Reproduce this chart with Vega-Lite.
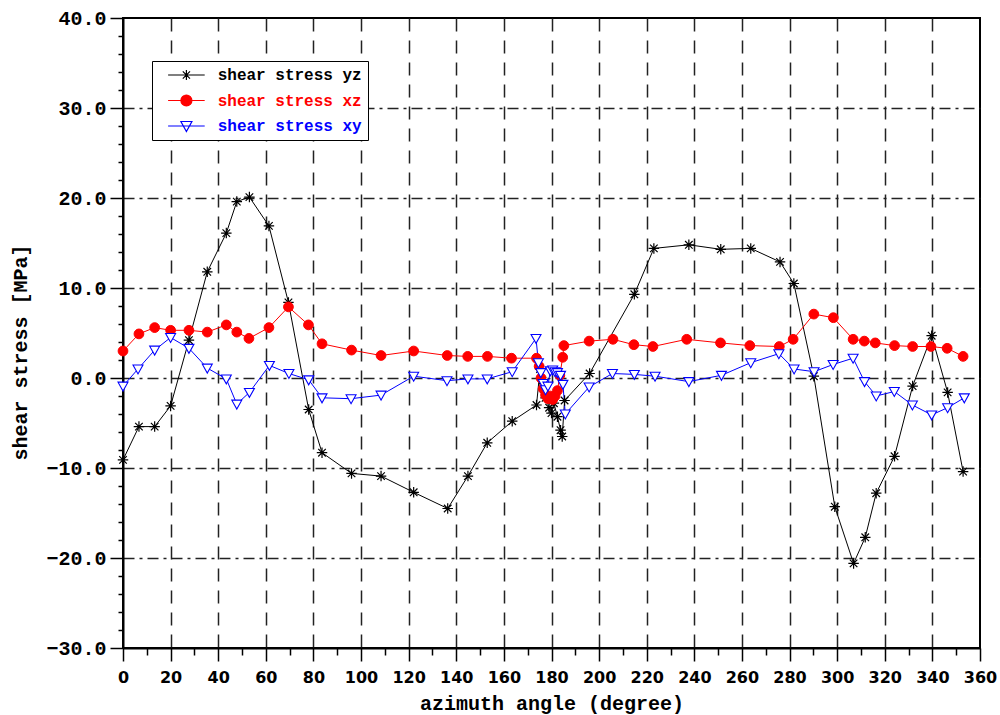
{
  "$schema": "https://vega.github.io/schema/vega-lite/v6.json",
  "width": 857,
  "height": 630,
  "autosize": {"type": "none"},
  "padding": {"left": 123, "top": 18, "right": 20, "bottom": 67},
  "background": "white",
  "config": {
    "view": {"stroke": "black", "strokeWidth": 2},
    "font": "Liberation Mono",
    "legend": {
      "title": null,
      "orient": "none",
      "legendX": 29,
      "legendY": 43,
      "strokeColor": "black",
      "fillColor": "white",
      "padding": 6,
      "symbolSize": 100,
      "symbolOffset": 20.4,
      "symbolStrokeWidth": 1.2,
      "labelFont": "Liberation Mono", "labelFontWeight": "bold", "labelFontSize": 16,
      "labelOffset": 23.3,
      "labelLimit": 0,
      "rowPadding": 9.5
    }
  },
  "datasets": {
    "rows": [
      {"a": 0, "s": "shear stress yz", "v": -9.1}, {"a": 6.7, "s": "shear stress yz", "v": -5.4}, {"a": 13.3, "s": "shear stress yz", "v": -5.4}, {"a": 20, "s": "shear stress yz", "v": -3.1}, {"a": 27.7, "s": "shear stress yz", "v": 4.2}, {"a": 35.4, "s": "shear stress yz", "v": 11.8}, {"a": 43.4, "s": "shear stress yz", "v": 16.1}, {"a": 47.8, "s": "shear stress yz", "v": 19.6}, {"a": 53.1, "s": "shear stress yz", "v": 20.1}, {"a": 61.3, "s": "shear stress yz", "v": 16.9}, {"a": 69.5, "s": "shear stress yz", "v": 8.4}, {"a": 78, "s": "shear stress yz", "v": -3.5}, {"a": 83.6, "s": "shear stress yz", "v": -8.3}, {"a": 96, "s": "shear stress yz", "v": -10.6}, {"a": 108.4, "s": "shear stress yz", "v": -10.9}, {"a": 122.1, "s": "shear stress yz", "v": -12.7}, {"a": 136.4, "s": "shear stress yz", "v": -14.5}, {"a": 144.9, "s": "shear stress yz", "v": -10.9}, {"a": 153, "s": "shear stress yz", "v": -7.2}, {"a": 163.5, "s": "shear stress yz", "v": -4.8}, {"a": 173.7, "s": "shear stress yz", "v": -3.0}, {"a": 175.2, "s": "shear stress yz", "v": 1.0}, {"a": 176.2, "s": "shear stress yz", "v": -0.3}, {"a": 177.5, "s": "shear stress yz", "v": -2.2}, {"a": 179, "s": "shear stress yz", "v": -3.3}, {"a": 180, "s": "shear stress yz", "v": -3.9}, {"a": 181, "s": "shear stress yz", "v": -2.8}, {"a": 182.5, "s": "shear stress yz", "v": -4.3}, {"a": 183.8, "s": "shear stress yz", "v": -5.8}, {"a": 184.5, "s": "shear stress yz", "v": -6.5}, {"a": 185.5, "s": "shear stress yz", "v": -2.5}, {"a": 196, "s": "shear stress yz", "v": 0.5}, {"a": 214.8, "s": "shear stress yz", "v": 9.3}, {"a": 223, "s": "shear stress yz", "v": 14.4}, {"a": 237.7, "s": "shear stress yz", "v": 14.8}, {"a": 251.1, "s": "shear stress yz", "v": 14.3}, {"a": 263.7, "s": "shear stress yz", "v": 14.4}, {"a": 276, "s": "shear stress yz", "v": 12.9}, {"a": 281.8, "s": "shear stress yz", "v": 10.5}, {"a": 290.2, "s": "shear stress yz", "v": 0.2}, {"a": 299, "s": "shear stress yz", "v": -14.3}, {"a": 306.9, "s": "shear stress yz", "v": -20.6}, {"a": 311.8, "s": "shear stress yz", "v": -17.7}, {"a": 316.4, "s": "shear stress yz", "v": -12.8}, {"a": 324.1, "s": "shear stress yz", "v": -8.7}, {"a": 331.7, "s": "shear stress yz", "v": -0.9}, {"a": 339.7, "s": "shear stress yz", "v": 4.7}, {"a": 346.4, "s": "shear stress yz", "v": -1.6}, {"a": 352.9, "s": "shear stress yz", "v": -10.4},

      {"a": 0, "s": "shear stress xz", "v": 3.0}, {"a": 6.7, "s": "shear stress xz", "v": 4.9}, {"a": 13.3, "s": "shear stress xz", "v": 5.6}, {"a": 20, "s": "shear stress xz", "v": 5.3}, {"a": 27.7, "s": "shear stress xz", "v": 5.3}, {"a": 35.4, "s": "shear stress xz", "v": 5.1}, {"a": 43.4, "s": "shear stress xz", "v": 5.9}, {"a": 47.8, "s": "shear stress xz", "v": 5.1}, {"a": 52.9, "s": "shear stress xz", "v": 4.4}, {"a": 61.3, "s": "shear stress xz", "v": 5.6}, {"a": 69.5, "s": "shear stress xz", "v": 7.9}, {"a": 77.9, "s": "shear stress xz", "v": 5.9}, {"a": 83.6, "s": "shear stress xz", "v": 3.8}, {"a": 96, "s": "shear stress xz", "v": 3.1}, {"a": 108.4, "s": "shear stress xz", "v": 2.5}, {"a": 122.1, "s": "shear stress xz", "v": 3.0}, {"a": 136.2, "s": "shear stress xz", "v": 2.5}, {"a": 144.8, "s": "shear stress xz", "v": 2.4}, {"a": 153.1, "s": "shear stress xz", "v": 2.4}, {"a": 163.2, "s": "shear stress xz", "v": 2.2}, {"a": 173.7, "s": "shear stress xz", "v": 2.2}, {"a": 174.8, "s": "shear stress xz", "v": 1.3}, {"a": 175.6, "s": "shear stress xz", "v": 0.0}, {"a": 176.5, "s": "shear stress xz", "v": -1.2}, {"a": 177.5, "s": "shear stress xz", "v": -1.9}, {"a": 178.5, "s": "shear stress xz", "v": -2.3}, {"a": 179.5, "s": "shear stress xz", "v": -2.0}, {"a": 180.5, "s": "shear stress xz", "v": -2.4}, {"a": 181.5, "s": "shear stress xz", "v": -2.0}, {"a": 182.5, "s": "shear stress xz", "v": -1.4}, {"a": 183.5, "s": "shear stress xz", "v": 0.3}, {"a": 184.7, "s": "shear stress xz", "v": 2.3}, {"a": 185.2, "s": "shear stress xz", "v": 3.6}, {"a": 195.8, "s": "shear stress xz", "v": 4.1}, {"a": 205.8, "s": "shear stress xz", "v": 4.3}, {"a": 214.6, "s": "shear stress xz", "v": 3.7}, {"a": 222.6, "s": "shear stress xz", "v": 3.5}, {"a": 236.8, "s": "shear stress xz", "v": 4.3}, {"a": 251, "s": "shear stress xz", "v": 3.9}, {"a": 263.3, "s": "shear stress xz", "v": 3.6}, {"a": 275.7, "s": "shear stress xz", "v": 3.5}, {"a": 281.5, "s": "shear stress xz", "v": 4.3}, {"a": 290.2, "s": "shear stress xz", "v": 7.1}, {"a": 298.4, "s": "shear stress xz", "v": 6.7}, {"a": 306.7, "s": "shear stress xz", "v": 4.3}, {"a": 311.4, "s": "shear stress xz", "v": 4.1}, {"a": 316, "s": "shear stress xz", "v": 3.9}, {"a": 324.1, "s": "shear stress xz", "v": 3.6}, {"a": 331.7, "s": "shear stress xz", "v": 3.5}, {"a": 339.4, "s": "shear stress xz", "v": 3.5}, {"a": 346.2, "s": "shear stress xz", "v": 3.3}, {"a": 352.9, "s": "shear stress xz", "v": 2.4},

      {"a": 0, "s": "shear stress xy", "v": -0.9}, {"a": 6.3, "s": "shear stress xy", "v": 1.0}, {"a": 13.3, "s": "shear stress xy", "v": 3.1}, {"a": 20, "s": "shear stress xy", "v": 4.5}, {"a": 27.7, "s": "shear stress xy", "v": 3.3}, {"a": 35.4, "s": "shear stress xy", "v": 1.1}, {"a": 43.4, "s": "shear stress xy", "v": -0.1}, {"a": 47.8, "s": "shear stress xy", "v": -2.9}, {"a": 53.1, "s": "shear stress xy", "v": -1.6}, {"a": 61.5, "s": "shear stress xy", "v": 1.4}, {"a": 69.7, "s": "shear stress xy", "v": 0.5}, {"a": 78, "s": "shear stress xy", "v": -0.2}, {"a": 83.6, "s": "shear stress xy", "v": -2.2}, {"a": 95.8, "s": "shear stress xy", "v": -2.3}, {"a": 108.4, "s": "shear stress xy", "v": -1.9}, {"a": 122.1, "s": "shear stress xy", "v": 0.2}, {"a": 136.1, "s": "shear stress xy", "v": -0.3}, {"a": 144.9, "s": "shear stress xy", "v": -0.1}, {"a": 153, "s": "shear stress xy", "v": -0.1}, {"a": 163.5, "s": "shear stress xy", "v": 0.7}, {"a": 173.5, "s": "shear stress xy", "v": 4.4}, {"a": 174.5, "s": "shear stress xy", "v": 1.7}, {"a": 175.5, "s": "shear stress xy", "v": 0.6}, {"a": 176.5, "s": "shear stress xy", "v": -0.6}, {"a": 177.5, "s": "shear stress xy", "v": -1.3}, {"a": 178.5, "s": "shear stress xy", "v": -0.9}, {"a": 179.5, "s": "shear stress xy", "v": 0.8}, {"a": 180.5, "s": "shear stress xy", "v": 0.9}, {"a": 181.5, "s": "shear stress xy", "v": 0.7}, {"a": 182.5, "s": "shear stress xy", "v": 0.6}, {"a": 183.8, "s": "shear stress xy", "v": 0.3}, {"a": 184.8, "s": "shear stress xy", "v": -0.7}, {"a": 185.8, "s": "shear stress xy", "v": -4.0}, {"a": 195.8, "s": "shear stress xy", "v": -1.0}, {"a": 205.6, "s": "shear stress xy", "v": 0.5}, {"a": 214.8, "s": "shear stress xy", "v": 0.4}, {"a": 223.5, "s": "shear stress xy", "v": 0.2}, {"a": 237.7, "s": "shear stress xy", "v": -0.4}, {"a": 251.4, "s": "shear stress xy", "v": 0.3}, {"a": 263.7, "s": "shear stress xy", "v": 1.7}, {"a": 275.5, "s": "shear stress xy", "v": 2.7}, {"a": 281.9, "s": "shear stress xy", "v": 1.0}, {"a": 290.3, "s": "shear stress xy", "v": 0.7}, {"a": 298.3, "s": "shear stress xy", "v": 1.5}, {"a": 306.7, "s": "shear stress xy", "v": 2.2}, {"a": 311.5, "s": "shear stress xy", "v": -0.4}, {"a": 316.4, "s": "shear stress xy", "v": -2.0}, {"a": 324, "s": "shear stress xy", "v": -1.5}, {"a": 331.6, "s": "shear stress xy", "v": -3.0}, {"a": 339.7, "s": "shear stress xy", "v": -4.1}, {"a": 346.4, "s": "shear stress xy", "v": -3.3}, {"a": 353.4, "s": "shear stress xy", "v": -2.2}
    ]
  },
  "data": {"name": "rows"},
  "encoding": {
    "x": {
      "field": "a", "type": "quantitative",
      "scale": {"domain": [0, 360], "nice": false, "zero": false},
      "axis": {
        "title": "azimuth angle (degree)",
        "values": [0,10,20,30,40,50,60,70,80,90,100,110,120,130,140,150,160,170,180,190,200,210,220,230,240,250,260,270,280,290,300,310,320,330,340,350,360],
        "labelExpr": "datum.value % 20 === 0 ? datum.value : ''",
        "labelFont": "DejaVu Sans", "labelFontWeight": "bold", "labelFontSize": 16, "labelColor": "black",
        "labelPadding": 8,
        "labelOverlap": false,
        "labelFlush": false,
        "tickSize": {"condition": {"test": "datum.value % 20 === 0", "value": 13}, "value": 7},
        "tickColor": "black", "tickWidth": 1.5,
        "domainColor": "black", "domainWidth": 2,
        "grid": true,
        "gridColor": "#222222",
        "gridWidth": 1.5,
        "gridDash": [13, 9],
        "gridOpacity": {"condition": {"test": "datum.value % 20 === 0 && datum.value > 0 && datum.value < 360", "value": 1}, "value": 0},
        "titleFont": "Liberation Mono", "titleFontWeight": "bold", "titleFontSize": 20, "titleColor": "black",
        "titleBaseline": "middle", "titleY": 55
      }
    },
    "y": {
      "field": "v", "type": "quantitative",
      "scale": {"domain": [-30, 40], "nice": false, "zero": false},
      "axis": {
        "title": "shear stress [MPa]",
        "values": [-30,-28,-26,-24,-22,-20,-18,-16,-14,-12,-10,-8,-6,-4,-2,0,2,4,6,8,10,12,14,16,18,20,22,24,26,28,30,32,34,36,38,40],
        "labelExpr": "datum.value % 10 === 0 ? format(datum.value, '.1f') : ''",
        "labelFont": "Liberation Mono", "labelFontWeight": "bold", "labelFontSize": 20, "labelColor": "black",
        "labelPadding": 4,
        "labelOverlap": false,
        "labelFlush": false,
        "tickSize": {"condition": {"test": "datum.value % 10 === 0", "value": 13}, "value": 5},
        "tickColor": "black", "tickWidth": 1.5,
        "domainColor": "black", "domainWidth": 2,
        "grid": true,
        "gridColor": "#222222",
        "gridWidth": 1.5,
        "gridDash": [11, 5, 3, 5],
        "gridOpacity": {"condition": {"test": "datum.value % 10 === 0 && datum.value > -30 && datum.value < 40", "value": 1}, "value": 0},
        "titleFont": "Liberation Mono", "titleFontWeight": "bold", "titleFontSize": 20, "titleColor": "black",
        "titleAngle": -90, "titleAlign": "center", "titleBaseline": "middle",
        "titleX": -103, "titleY": 334
      }
    },
    "stroke": {
      "field": "s", "type": "nominal",
      "scale": {"domain": ["shear stress yz", "shear stress xz", "shear stress xy"], "range": ["black", "#ff0000", "#0000ff"]},
      "legend": {
        "labelExpr": "datum.label + '\u00a0'",
        "encode": {
          "symbols": {
            "update": {
              "shape": [
                {"test": "datum.value === 'shear stress yz'", "value": "M-3.66,0L3.66,0M-1,0L1,0M0,-1L0,1M-0.72,-0.72L0.72,0.72M-0.72,0.72L0.72,-0.72"},
                {"test": "datum.value === 'shear stress xz'", "value": "M-3.66,0L3.66,0M1.1,0A1.1,1.1 0 1,1 -1.1,0A1.1,1.1 0 1,1 1.1,0Z"},
                {"value": "M-3.66,0L3.66,0M-1.1,-0.9L1.1,-0.9L0,1.1Z"}
              ],
              "fill": [
                {"test": "datum.value === 'shear stress yz'", "value": "transparent"},
                {"test": "datum.value === 'shear stress xz'", "value": "#ff0000"},
                {"value": "white"}
              ],
              "strokeWidth": {"value": 1.2},
              "opacity": {"value": 1}
            }
          },
          "labels": {
            "update": {
              "fill": [
                {"test": "datum.value === 'shear stress yz'", "value": "black"},
                {"test": "datum.value === 'shear stress xz'", "value": "#ff0000"},
                {"value": "#0000ff"}
              ]
            }
          }
        }
      }
    }
  },
  "layer": [
    {
      "mark": {"type": "line", "strokeWidth": 1},
      "encoding": {}
    },
    {
      "transform": [{"filter": "datum.s === 'shear stress yz'"}],
      "mark": {"type": "point", "shape": "M-1,0L1,0M0,-1L0,1M-0.72,-0.72L0.72,0.72M-0.72,0.72L0.72,-0.72", "size": 110, "strokeWidth": 1.2, "fill": "transparent", "opacity": 1},
      "encoding": {}
    },
    {
      "transform": [{"filter": "datum.s === 'shear stress xz'"}],
      "mark": {"type": "point", "shape": "circle", "size": 95, "strokeWidth": 1, "fill": "#ff0000", "opacity": 1},
      "encoding": {}
    },
    {
      "transform": [{"filter": "datum.s === 'shear stress xy'"}],
      "mark": {"type": "point", "shape": "M-0.95,-0.75L0.95,-0.75L0,0.95Z", "size": 110, "strokeWidth": 1.1, "fill": "white", "opacity": 1},
      "encoding": {}
    }
  ]
}
